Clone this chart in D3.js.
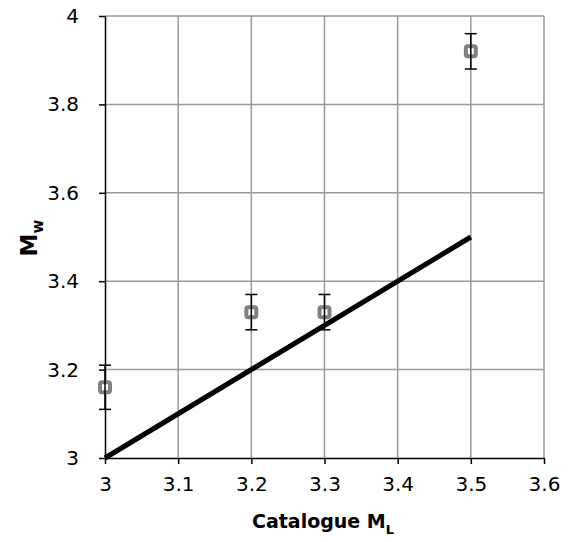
<!DOCTYPE html>
<html>
<head>
<meta charset="utf-8">
<script src="https://cdn.jsdelivr.net/npm/d3@7"></script>
<style>
  body { margin: 0; background: #fff; }
  text { font-family: "DejaVu Sans", sans-serif; }
</style>
</head>
<body>
<svg id="chart" width="573" height="542"></svg>
<script>
// measured points (catalogue ML vs Mw) with error bars
const ml = [3.0, 3.2, 3.3, 3.5];
const mw = [3.16, 3.33, 3.33, 3.92];
const mwErr = [0.05, 0.04, 0.04, 0.04];

// 1:1 reference line
const lineX = [3.0, 3.5];
const lineY = [3.0, 3.5];

const xTicks = [3, 3.1, 3.2, 3.3, 3.4, 3.5, 3.6];
const yTicks = [3, 3.2, 3.4, 3.6, 3.8, 4];

const svg = d3.select("#chart");
const margin = {top: 16, right: 29, bottom: 84, left: 105};
const width = 573 - margin.left - margin.right;
const height = 542 - margin.top - margin.bottom;
const g = svg.append("g").attr("transform", `translate(${margin.left},${margin.top})`);

const x = d3.scaleLinear().domain([3, 3.6]).range([0, width]);
const y = d3.scaleLinear().domain([3, 4]).range([height, 0]);

// gridlines
g.append("g")
    .selectAll("line")
    .data(xTicks.slice(1))
    .join("line")
    .attr("x1", d => x(d)).attr("x2", d => x(d))
    .attr("y1", 0).attr("y2", height)
    .attr("stroke", "#9a9a9a").attr("stroke-width", 1.5);

g.append("g")
    .selectAll("line")
    .data(yTicks.slice(1))
    .join("line")
    .attr("x1", 0).attr("x2", width)
    .attr("y1", d => y(d)).attr("y2", d => y(d))
    .attr("stroke", "#9a9a9a").attr("stroke-width", 1.5);

// axes
const xAxis = g.append("g")
    .attr("transform", `translate(0,${height})`)
    .call(d3.axisBottom(x).tickValues(xTicks).tickFormat(d3.format("")).tickSize(6).tickSizeOuter(0).tickPadding(13));
const yAxis = g.append("g")
    .call(d3.axisLeft(y).tickValues(yTicks).tickFormat(d3.format("")).tickSize(6).tickSizeOuter(0).tickPadding(20));

[xAxis, yAxis].forEach(a => {
    a.attr("font-family", null).attr("font-size", null);
    a.select(".domain").attr("stroke", "#000").attr("stroke-width", 1.5);
    a.selectAll(".tick line").attr("stroke", "#000").attr("stroke-width", 1.5);
    a.selectAll("text").attr("fill", "#000").style("font-size", "20px");
});

// 1:1 line
g.append("path")
    .datum(lineX.map((d, i) => [d, lineY[i]]))
    .attr("d", d3.line().x(d => x(d[0])).y(d => y(d[1])))
    .attr("stroke", "#000").attr("stroke-width", 5).attr("fill", "none");

const pts = ml.map((d, i) => ({x: d, y: mw[i], e: mwErr[i]}));

// markers
g.append("g").selectAll("rect").data(pts).join("rect")
    .attr("x", d => x(d.x) - 5).attr("y", d => y(d.y) - 5)
    .attr("width", 10).attr("height", 10).attr("rx", 2)
    .attr("fill", "#fff").attr("stroke", "#808080").attr("stroke-width", 4);

// error bars
const eb = g.append("g").selectAll("g").data(pts).join("g");
eb.append("line")
    .attr("x1", d => x(d.x)).attr("x2", d => x(d.x))
    .attr("y1", d => y(d.y + d.e)).attr("y2", d => y(d.y - d.e))
    .attr("stroke", "#000").attr("stroke-width", 1.5);
[1, -1].forEach(s => {
    eb.append("line")
        .attr("x1", d => x(d.x) - 6).attr("x2", d => x(d.x) + 6)
        .attr("y1", d => y(d.y + s * d.e)).attr("y2", d => y(d.y + s * d.e))
        .attr("stroke", "#000").attr("stroke-width", 1.5);
});

// axis titles
const xt = svg.append("text")
    .attr("x", 252).attr("y", 528)
    .style("font-size", "19px").style("font-weight", "bold");
xt.append("tspan").text("Catalogue M");
xt.append("tspan").attr("dy", 6).style("font-size", "13px").text("L");

const yt = svg.append("text")
    .attr("transform", `translate(37,238) rotate(-90)`)
    .attr("text-anchor", "middle")
    .style("font-size", "23px").style("font-weight", "bold");
yt.append("tspan").text("M");
yt.append("tspan").attr("dy", 6).style("font-size", "15px").text("w");
</script>
</body>
</html>
